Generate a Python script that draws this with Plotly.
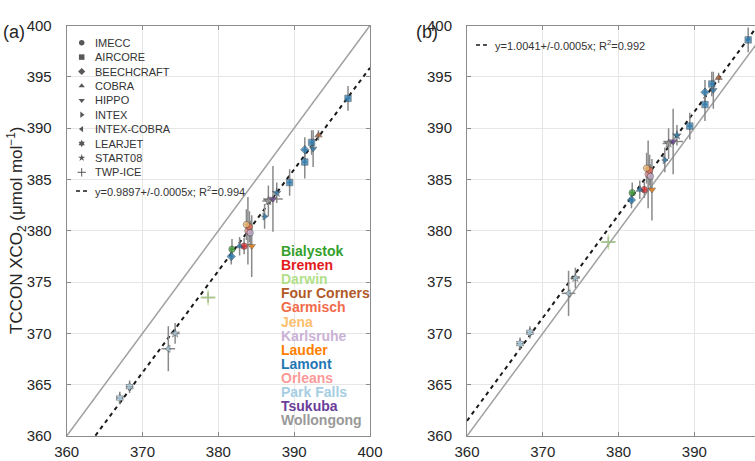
import plotly.graph_objects as go

W, H = 755, 461

# ---------------- data ----------------
point_site = ["Park Falls", "Park Falls", "Park Falls", "Park Falls", "Darwin",
              "Bialystok", "Lamont", "Bremen", "Lamont", "Lauder",
              "Orleans", "Garmisch", "Jena", "Karlsruhe", "Lamont",
              "Wollongong", "Tsukuba", "Lamont", "Lamont", "Lamont",
              "Lamont", "Lamont", "Lamont", "Four Corners", "Lamont"]
point_campaign = ["LEARJET", "LEARJET", "INTEX-COBRA", "START08", "TWP-ICE",
                  "IMECC", "BEECHCRAFT", "IMECC", "COBRA", "HIPPO",
                  "IMECC", "IMECC", "IMECC", "IMECC", "INTEX",
                  "START08", "HIPPO", "START08", "AIRCORE", "AIRCORE",
                  "BEECHCRAFT", "AIRCORE", "HIPPO", "COBRA", "AIRCORE"]
aircraft_xco2 = [367.0, 368.3, 373.4, 374.3, 378.65,
                 381.8, 381.7, 383.4, 382.8, 384.4,
                 383.9, 384.1, 383.7, 384.2, 386.1,
                 386.6, 387.2, 387.7, 389.4, 391.4,
                 391.4, 392.3, 392.5, 393.2, 397.1]
aircraft_err = [0.5, 0.5, 0.9, 0.6, 0.9,
                0.3, 0.3, 0.3, 0.3, 0.3,
                0.3, 0.3, 0.3, 0.3, 0.4,
                0.8, 1.3, 0.4, 0.3, 0.3,
                0.3, 0.3, 0.3, 0.3, 0.3]
tccon_a = [363.7, 364.8, 368.5, 370.0, 373.5,
           378.2, 377.5, 378.5, 378.5, 378.5,
           380.0, 380.4, 380.6, 379.8, 381.4,
           382.9, 383.1, 383.7, 384.7, 386.7,
           387.9, 388.6, 388.0, 389.3, 392.9]
tccon_b = [369.0, 370.1, 373.9, 375.4, 378.9,
           383.7, 383.0, 384.0, 384.0, 384.0,
           385.5, 385.9, 386.1, 385.3, 386.9,
           388.5, 388.7, 389.3, 390.2, 392.3,
           393.5, 394.3, 393.7, 394.9, 398.6]
tccon_err = [0.6, 0.6, 2.2, 1.0, 0.5,
             1.0, 0.8, 0.8, 0.9, 3.0,
             3.3, 1.5, 1.5, 1.2, 1.2,
             1.5, 3.2, 1.0, 1.3, 1.6,
             1.2, 1.2, 1.8, 0.5, 1.2]

site_names = ["Bialystok", "Bremen", "Darwin", "Four Corners", "Garmisch", "Jena",
              "Karlsruhe", "Lauder", "Lamont", "Orleans", "Park Falls", "Tsukuba",
              "Wollongong"]
site_colors = ["#33a02c", "#e31a1c", "#b2df8a", "#b15928", "#f26b4a", "#fdbf6f",
               "#cab2d6", "#ff7f00", "#1f78b4", "#fb9a99", "#a6cee3", "#6a3d9a",
               "#999999"]
campaign_names = ["IMECC", "AIRCORE", "BEECHCRAFT", "COBRA", "HIPPO", "INTEX",
                  "INTEX-COBRA", "LEARJET", "START08", "TWP-ICE"]
campaign_symbols = ["circle", "square", "diamond", "triangle-up", "triangle-down",
                    "triangle-right", "triangle-left", "hexagram", "star", "cross-thin"]

fit_a = {"slope": 0.9897, "err": 0.0005, "r2": 0.994}
fit_b = {"slope": 1.0041, "err": 0.0005, "r2": 0.992}

axis_lo, axis_hi = 360, 400
b_xmax = 398.0

# ---------------- helpers ----------------
col_of = dict(zip(site_names, site_colors))
sym_of = dict(zip(campaign_names, campaign_symbols))
pt_colors = [col_of[s] for s in point_site]
pt_symbols = [sym_of[c] for c in point_campaign]
pt_line = [col_of[s] if c == "TWP-ICE" else "#303030" for s, c in zip(point_site, point_campaign)]
pt_lw = [1.5 if c == "TWP-ICE" else 0.6 for c in point_campaign]
pt_size = [11 if c == "TWP-ICE" else 6.5 for c in point_campaign]

GRID = "#e6e6e6"
AX = "#8c8c8c"
TXT = "#262626"

fig = go.Figure()


def add_panel(xa, ya, yvals, fit):
    fig.add_trace(go.Scatter(x=[axis_lo, axis_hi], y=[axis_lo, axis_hi], mode="lines",
                             line=dict(color="#a0a0a0", width=1.5), xaxis=xa, yaxis=ya,
                             showlegend=False, hoverinfo="skip"))
    fig.add_trace(go.Scatter(x=[axis_lo, axis_hi],
                             y=[fit["slope"] * axis_lo, fit["slope"] * axis_hi],
                             mode="lines", line=dict(color="#1a1a1a", width=2, dash="4px,4px"),
                             xaxis=xa, yaxis=ya, showlegend=False, hoverinfo="skip"))
    fig.add_trace(go.Scatter(
        x=aircraft_xco2, y=yvals, mode="markers", xaxis=xa, yaxis=ya, showlegend=False,
        marker=dict(color=pt_colors, symbol=pt_symbols, size=pt_size,
                    line=dict(color=pt_line, width=pt_lw)),
        error_y=dict(type="data", array=tccon_err, color="#8a8a8a", thickness=1.5, width=0),
        error_x=dict(type="data", array=aircraft_err, color="#8a8a8a", thickness=1.5, width=0),
        cliponaxis=True))


add_panel("x", "y", tccon_a, fit_a)
add_panel("x2", "y2", tccon_b, fit_b)

# ---------------- legends on a pixel overlay ----------------
leg_y0, leg_dy = 42.7, 14.4
fig.add_trace(go.Scatter(
    x=[81.7] * len(campaign_names),
    y=[leg_y0 + i * leg_dy for i in range(len(campaign_names))],
    mode="markers", xaxis="x3", yaxis="y3", showlegend=False, hoverinfo="skip",
    marker=dict(color="#111111", symbol=campaign_symbols,
                size=[6 if s == "cross-thin" else 5.5 for s in campaign_symbols],
                line=dict(color="#111111", width=[1 if s == "cross-thin" else 0 for s in campaign_symbols]))))

annotations = []
for i, name in enumerate(campaign_names):
    annotations.append(dict(x=93 / W, y=1 - (leg_y0 + i * leg_dy) / H, xref="paper", yref="paper",
                            text=name, showarrow=False, xanchor="left", yanchor="middle",
                            font=dict(size=11, color="#333333")))

fit_y_a = 191
fit_y_b = 45
shapes = [
    dict(type="line", xref="paper", yref="paper", x0=76 / W, x1=89 / W,
         y0=1 - fit_y_a / H, y1=1 - fit_y_a / H, line=dict(color="#1a1a1a", width=1.5, dash="4px,3px")),
    dict(type="line", xref="paper", yref="paper", x0=476 / W, x1=489 / W,
         y0=1 - fit_y_b / H, y1=1 - fit_y_b / H, line=dict(color="#1a1a1a", width=1.5, dash="4px,3px")),
]
for fit, xx, yy in [(fit_a, 93, fit_y_a), (fit_b, 492.5, fit_y_b)]:
    annotations.append(dict(
        x=xx / W, y=1 - yy / H, xref="paper", yref="paper", showarrow=False,
        xanchor="left", yanchor="middle", font=dict(size=11, color="#333333"),
        text=f"y={fit['slope']:.4f}+/-{fit['err']:.4f}x; R<sup>2</sup>={fit['r2']:.3f}"))

site_y0, site_dy = 251, 14.1
for i, (name, c) in enumerate(zip(site_names, site_colors)):
    annotations.append(dict(x=279 / W, y=1 - (site_y0 + i * site_dy) / H, xref="paper", yref="paper",
                            text=f"<b>{name}</b>", showarrow=False, xanchor="left", yanchor="middle",
                            font=dict(size=14, color=c)))

annotations.append(dict(x=16 / W, y=1 - 230 / H, xref="paper", yref="paper", showarrow=False,
                        textangle=-90, xanchor="center", yanchor="middle",
                        text="TCCON XCO<sub>2</sub> (μmol mol<sup>−1</sup>)",
                        font=dict(size=17, color=TXT)))
annotations.append(dict(x=1 / W, y=1 - 20 / H, xref="paper", yref="paper", showarrow=False,
                        xanchor="left", text="(a)", font=dict(size=18, color=TXT)))
annotations.append(dict(x=414 / W, y=1 - 20 / H, xref="paper", yref="paper", showarrow=False,
                        xanchor="left", text="(b)", font=dict(size=18, color=TXT)))

ydom = [(H - 436) / H, (H - 25.5) / H]
common = dict(showgrid=True, gridcolor=GRID, gridwidth=1, zeroline=False, showline=True,
              linecolor=AX, linewidth=1, ticks="inside", ticklen=4, tickcolor=AX, automargin=False,
              tickfont=dict(size=15, color=TXT, family="Liberation Sans, Arial, sans-serif"))

fig.update_layout(
    width=W, height=H, margin=dict(l=0, r=0, t=0, b=0, autoexpand=False),
    paper_bgcolor="white", plot_bgcolor="rgba(0,0,0,0)",
    font=dict(family="Liberation Sans, Arial, sans-serif"),
    xaxis=dict(domain=[66.7 / W, 370 / W], range=[axis_lo, axis_hi], tickvals=[360, 370, 380, 390, 400],
               mirror="ticks", anchor="y", ticklabelstandoff=2, **common),
    yaxis=dict(domain=ydom, range=[axis_lo, axis_hi], dtick=5, mirror="ticks", anchor="x",
               ticklabelstandoff=11, **common),
    xaxis2=dict(domain=[467 / W, 1.0], range=[axis_lo, b_xmax], tickvals=[360, 370, 380, 390],
                mirror="ticks", anchor="y2", ticklabelstandoff=2, **common),
    yaxis2=dict(domain=ydom, range=[axis_lo, axis_hi], dtick=5, mirror=False, anchor="x2",
                ticklabelstandoff=11, **common),
    xaxis3=dict(domain=[0, 1], range=[0, W], visible=False, anchor="y3", fixedrange=True),
    yaxis3=dict(domain=[0, 1], range=[H, 0], visible=False, anchor="x3", fixedrange=True),
    annotations=annotations, shapes=shapes, showlegend=False,
)

fig.write_html("out.html")
